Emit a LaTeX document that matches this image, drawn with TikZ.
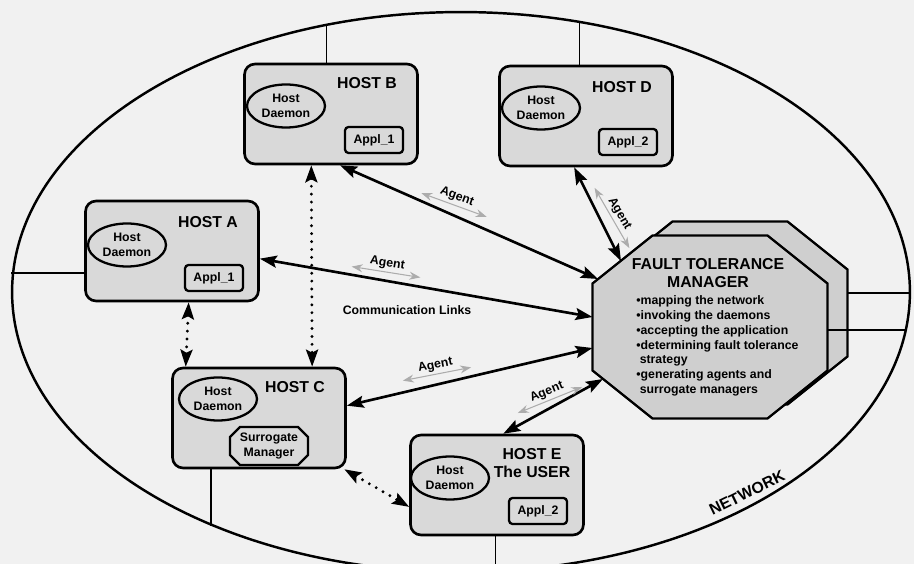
\documentclass[tikz,border=0pt]{standalone}
\usepackage{fontspec}
\setmainfont{Liberation Sans}
\usetikzlibrary{arrows.meta,shapes.geometric}

\begin{document}
\begin{tikzpicture}[x=0.02cm,y=-0.02cm,font=\bfseries]
\tikzstyle{every node}+=[inner sep=0pt]
\tikzstyle{host}=[draw,line width=1.5pt,rounded corners=6pt,fill=gray!30,minimum width=3.46cm,minimum height=2cm]
\tikzstyle{daemon}=[draw,ellipse,line width=1.3pt,fill=gray!30,minimum width=1.56cm,minimum height=0.86cm,align=center,font=\fontsize{7}{8.5}\selectfont\bfseries]
\tikzstyle{appl}=[draw,line width=1.3pt,rounded corners=2pt,fill=gray!30,minimum width=1.16cm,minimum height=0.52cm,font=\fontsize{7}{8.5}\selectfont\bfseries]
\tikzstyle{title}=[align=center,font=\fontsize{9}{10.5}\selectfont\bfseries]
\tikzstyle{octa}=[line width=1.3pt,fill=gray!38]
\tikzstyle{link}=[line width=1.5pt,{Stealth[length=0.34cm,width=0.24cm,inset=0.06cm]}-{Stealth[length=0.34cm,width=0.24cm,inset=0.06cm]}]
\tikzstyle{dotlink}=[link,line cap=round,dash pattern=on 0pt off 4.5pt,line width=1.8pt]
\tikzstyle{agent}=[inner xsep=0.34cm,inner ysep=1.5pt,anchor=south,font=\fontsize{7}{8}\selectfont\bfseries]
\tikzstyle{agentarrow}=[gray!65,line width=0.6pt,{Stealth[length=0.22cm,width=0.16cm]}-{Stealth[length=0.22cm,width=0.16cm]}]
\fill [gray!11] (0,0) rectangle (914,564);
\useasboundingbox (0,0) rectangle (914,564);
\node [draw,ellipse,line width=1.4pt,minimum width=17.96cm,minimum height=11.2cm] (net) at (461,292) {};
\draw [octa] (672.5,221.5) -- (787.5,221.5) -- (847.5,269.5) -- (847.5,356.5) -- (787.5,404.5) -- (672.5,404.5) -- (612.5,356.5) -- (612.5,269.5) -- cycle;
\draw [octa] (652.5,235.5) -- (767.5,235.5) -- (827.5,283.5) -- (827.5,370.5) -- (767.5,418.5) -- (652.5,418.5) -- (592.5,370.5) -- (592.5,283.5) -- cycle;
\coordinate (fU) at (847.5,293);
\coordinate (fL) at (827.5,330);
\coordinate (fB) at (598,279);
\coordinate (fD) at (621,261);
\coordinate (fA) at (592.5,317);
\coordinate (fC) at (592.5,348);
\coordinate (fE) at (603,379);
\node [host] (hostA) at (172,251) {};
\node [host] (hostB) at (331,114) {};
\node [host] (hostC) at (259,418) {};
\node [host] (hostD) at (586,116) {};
\node [host] (hostE) at (497,485) {};
\draw [line width=0.8pt] (hostA.194) -- (hostA.194 -| net.west);
\draw [line width=0.8pt] (hostB.95) -- (hostB.95 |- net.117);
\draw [line width=0.8pt] (hostD.97) -- (hostD.97 |- net.66);
\draw [line width=0.8pt] (hostC.-133) -- (hostC.-133 |- net.-137);
\draw [line width=0.8pt] (hostE.-92) -- (hostE.-92 |- net.-83);
\draw [line width=0.8pt] (fU) -- (fU -| net.east);
\draw [line width=0.8pt] (fL) -- (fL -| net.-5);
\node [title] (tA) at (208,222) {HOST A};
\node [title] (tB) at (367,83) {HOST B};
\node [title] (tC) at (295,387) {HOST C};
\node [title] (tD) at (622,87) {HOST D};
\node [title] (tE) at (532,463) {HOST E\\The USER};
\node [daemon] (dA) at (127,245) {Host\\Daemon};
\node [daemon] (dB) at (286,106) {Host\\Daemon};
\node [daemon] (dC) at (218,399) {Host\\Daemon};
\node [daemon] (dD) at (541,108) {Host\\Daemon};
\node [daemon] (dE) at (450,478) {Host\\Daemon};
\node [appl] (apA) at (214,278) {Appl\_1};
\node [appl] (apB) at (374,140) {Appl\_1};
\node [appl] (apD) at (628,142) {Appl\_2};
\node [appl] (apE) at (538,511) {Appl\_2};
\draw [octa,fill=gray!30] (240,427) -- (298,427) -- (308,437) -- (308,455) -- (298,465) -- (240,465) -- (230,455) -- (230,437) -- cycle;
\node [align=center,font=\fontsize{7}{8.5}\selectfont\bfseries] (sur) at (269,446) {Surrogate\\Manager};
\node [title] (ftmtitle) at (708,273) {FAULT TOLERANCE\\MANAGER};
\node [anchor=north west,align=left,font=\fontsize{7}{8.5}\selectfont\bfseries] (ftmtext) at (636,295) {•mapping the network\\•invoking the daemons\\•accepting the application\\•determining fault tolerance\\\ strategy\\•generating agents and\\\ surrogate managers};
\draw [link] (hostB.-80) -- (fB);
\draw [link] (hostD.-103) -- (fD);
\draw [link] (hostA.-5) -- (fA);
\draw [link] (hostC.8) -- (fC);
\draw [link] (hostE.83) -- (fE);
\draw [dotlink] (hostB.-111) -- (hostC.44);
\draw [dotlink] (hostA.-72) -- (hostC.145);
\draw [dotlink] (hostC.-31) -- (hostE.194);
\node [agent,rotate=-20] (ag1) at (454,205) {Agent};
\node [agent,rotate=-9] (ag2) at (386,272) {Agent};
\node [agent,rotate=11] (ag3) at (437,374) {Agent};
\node [agent,rotate=22] (ag4) at (550,400) {Agent};
\node [agent,rotate=-60] (ag5) at (612,218) {Agent};
\draw [agentarrow] (ag1.south west) -- (ag1.south east);
\draw [agentarrow] (ag2.south west) -- (ag2.south east);
\draw [agentarrow] (ag3.south west) -- (ag3.south east);
\draw [agentarrow] (ag4.south west) -- (ag4.south east);
\draw [agentarrow] (ag5.south west) -- (ag5.south east);
\node [font=\fontsize{7}{8}\selectfont\bfseries] (comm) at (407,310) {Communication Links};
\node [font=\fontsize{9}{10}\selectfont\bfseries,rotate=26] (netlabel) at (747,493) {NETWORK};
\end{tikzpicture}
\end{document}
